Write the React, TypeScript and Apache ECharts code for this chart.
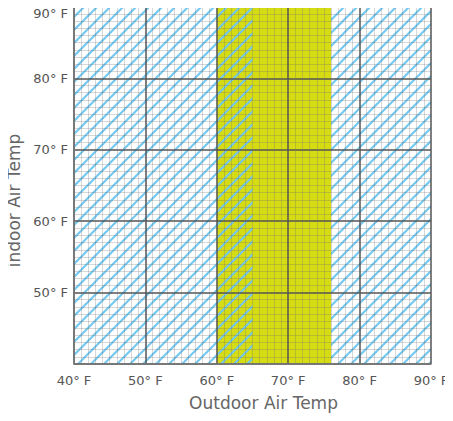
import React, { useEffect, useRef } from "react";
import * as echarts from "echarts";

const xTicks = [40, 50, 60, 70, 80, 90];
const yTicks = [40, 50, 60, 70, 80, 90];
const comfortZone = [60, 76];
const hatchZones = [
  [40, 65],
  [76, 90],
];

function makeHatch(color: string, period: number, width: number) {
  const c = document.createElement("canvas");
  c.width = period;
  c.height = period;
  const ctx = c.getContext("2d")!;
  ctx.strokeStyle = color;
  ctx.lineWidth = width;
  ctx.lineCap = "square";
  const segs = [
    [0, period, period, 0],
    [-period, period, period, -period],
    [0, 2 * period, 2 * period, 0],
  ];
  segs.forEach(([a, b, d, e]) => {
    ctx.beginPath();
    ctx.moveTo(a, b);
    ctx.lineTo(d, e);
    ctx.stroke();
  });
  return c;
}

export default function App() {
  const ref = useRef<HTMLDivElement>(null);
  useEffect(() => {
    const chart = echarts.init(ref.current!, undefined, { renderer: "svg" });
    const P = 13;
    const hatch = makeHatch("rgba(110,198,240,0.95)", P, 2.2);
    const fmt = (v: number) => `${v}° F`;
    const font = "DejaVu Sans";
    chart.setOption({
      animation: false,
      backgroundColor: "#ffffff",
      grid: { left: 74, right: 22, top: 7, bottom: 57, containLabel: false, outerBoundsMode: "none" },
      xAxis: {
        type: "value",
        min: xTicks[0],
        max: xTicks[xTicks.length - 1],
        interval: 10,
        z: 5,
        name: "Outdoor Air Temp",
        nameLocation: "middle",
        nameGap: 30,
        nameTextStyle: { fontFamily: font, fontSize: 17, color: "#666", padding: [0, 0, 0, 22] },
        axisLine: { show: true, lineStyle: { color: "#777", width: 1.5 } },
        axisTick: { show: false },
        axisLabel: { margin: 10, fontFamily: font, fontSize: 13, color: "#555", formatter: fmt },
        splitLine: { show: true, lineStyle: { color: "#555", width: 1.5 } },
        minorTick: { show: false, splitNumber: 10 },
        minorSplitLine: { show: true, lineStyle: { color: "rgba(110,110,110,0.28)", width: 1 } },
      },
      yAxis: {
        type: "value",
        min: yTicks[0],
        max: yTicks[yTicks.length - 1],
        interval: 10,
        z: 5,
        name: "indoor Air Temp",
        nameLocation: "middle",
        nameGap: 47,
        nameTextStyle: { fontFamily: font, fontSize: 17, color: "#666", padding: [0, 30, 0, 0] },
        axisLine: { show: true, lineStyle: { color: "#777", width: 1.5 } },
        axisTick: { show: false },
        axisLabel: {
          margin: 6,
          fontFamily: font,
          fontSize: 13,
          color: "#555",
          formatter: (v: number) => (v === yTicks[0] ? "" : fmt(v)),
          verticalAlignMaxLabel: "top",
        },
        splitLine: { show: true, lineStyle: { color: "#555", width: 1.5 } },
        minorTick: { show: false, splitNumber: 10 },
        minorSplitLine: { show: true, lineStyle: { color: "rgba(110,110,110,0.28)", width: 1 } },
      },
      series: [
        {
          type: "line",
          z: 1,
          data: [],
          silent: true,
          markArea: {
            silent: true,
            itemStyle: { color: "#d6dc14" },
            data: [[{ xAxis: comfortZone[0] }, { xAxis: comfortZone[1] }]],
          },
        },
        {
          type: "line",
          z: 2,
          data: [],
          silent: true,
          markArea: {
            silent: true,
            itemStyle: {
              color: { image: hatch, repeat: "repeat", imageWidth: P, imageHeight: P } as any,
            },
            data: hatchZones.map(([a, b]) => [{ xAxis: a }, { xAxis: b }]),
          },
        },
      ],
    });
    return () => chart.dispose();
  }, []);
  return <div ref={ref} style={{ width: 453, height: 421, margin: -8 }} />;
}
